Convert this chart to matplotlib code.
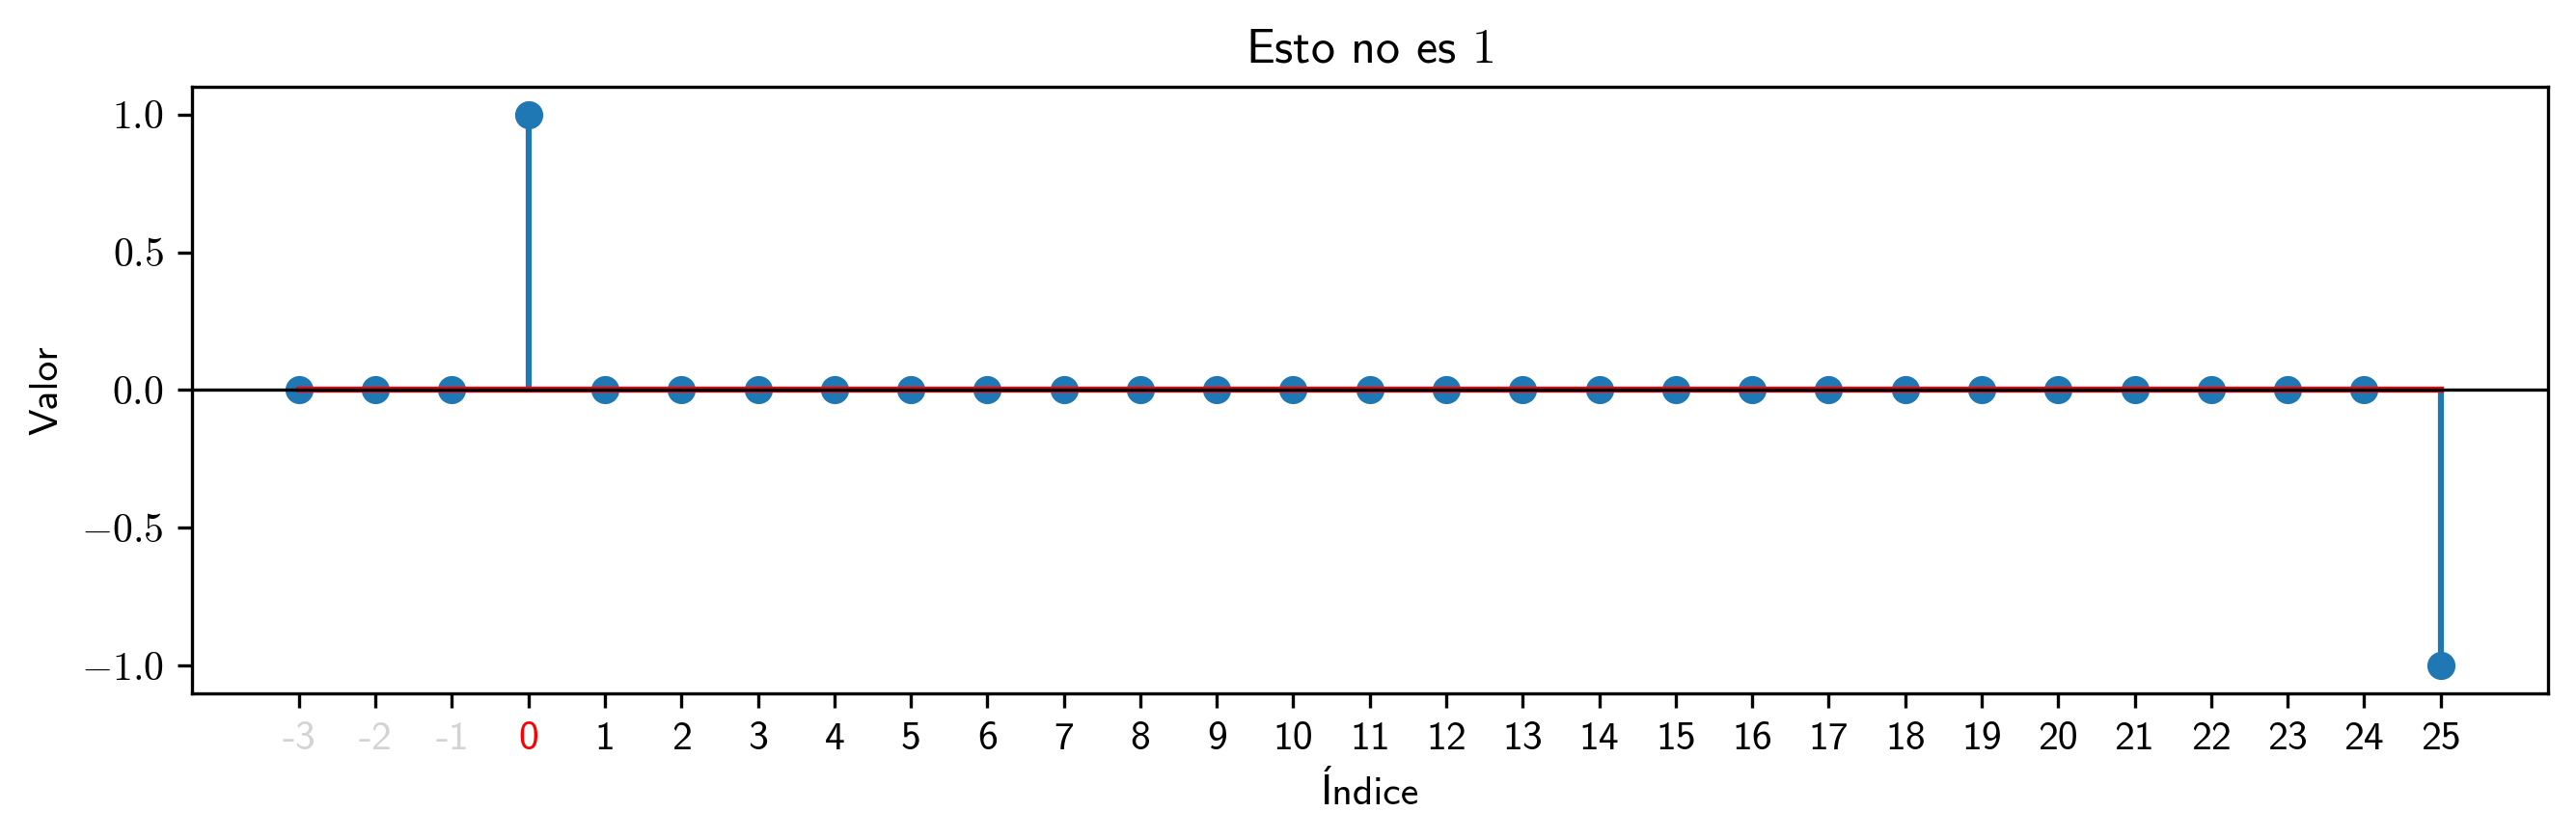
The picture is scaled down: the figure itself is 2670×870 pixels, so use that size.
import numpy as np
import matplotlib
matplotlib.use("Agg")
import matplotlib.pyplot as plt
from matplotlib.ticker import FuncFormatter

# data
n = list(range(-3, 26))
valores = [0, 0, 0, 1] + [0] * 24 + [-1]
tick_labels = [str(k) for k in n]
colores_ticks = ["lightgray"] * 3 + ["red"] + ["black"] * 25

plt.rcParams["font.family"] = ["cmss10", "DejaVu Sans"]
plt.rcParams["mathtext.fontset"] = "cm"
plt.rcParams["axes.unicode_minus"] = True

fig, ax = plt.subplots(figsize=(8.9, 2.9), dpi=300)
fig.subplots_adjust(left=0.0745, right=0.989, top=0.8966, bottom=0.1736)

ax.stem(n, valores, basefmt="r-")
ax.axhline(0, color="black", linewidth=0.8)

ax.set_xticks(n)
ax.set_xticklabels(tick_labels)
for lbl, c in zip(ax.get_xticklabels(), colores_ticks):
    lbl.set_color(c)

ax.yaxis.set_major_formatter(FuncFormatter(lambda v, p: f"${v:.1f}$"))

ax.set_title("Esto no es $1$")
ax.set_xlabel("Índice")
ax.set_ylabel("Valor")

fig.savefig("out.png", dpi=300)
plt.close(fig)
